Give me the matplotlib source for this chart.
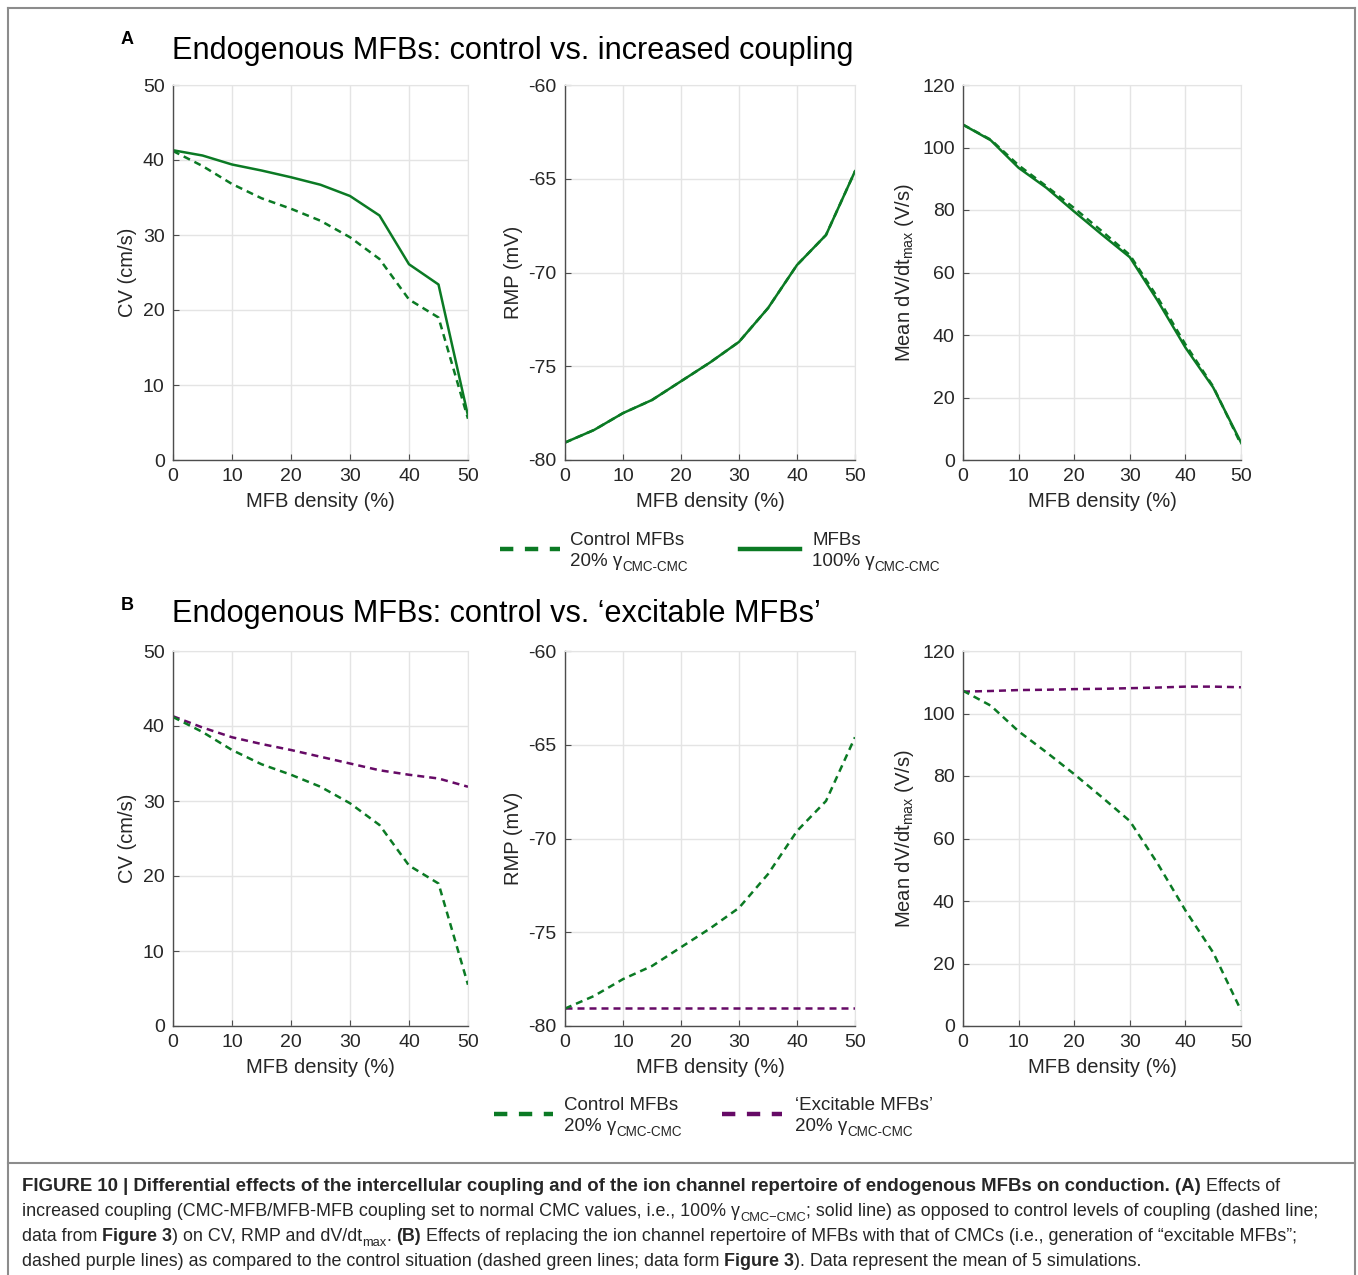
import matplotlib
matplotlib.use('Agg')
import matplotlib.pyplot as plt
from matplotlib.lines import Line2D

plt.rcParams['font.family'] = ['Liberation Sans', 'DejaVu Sans']
plt.rcParams['mathtext.fontset'] = 'custom'
plt.rcParams['mathtext.rm'] = 'Liberation Sans'
plt.rcParams['mathtext.it'] = 'Liberation Sans:italic'
plt.rcParams['axes.unicode_minus'] = False

# dados
mfb = [0, 5, 10, 15, 20, 25, 30, 35, 40, 45, 50]
cv_ctrl = [41.2, 39.2, 36.8, 34.9, 33.5, 31.9, 29.7, 26.8, 21.4, 19.0, 5.5]
cv_coup = [41.3, 40.6, 39.4, 38.6, 37.7, 36.7, 35.2, 32.6, 26.1, 23.4, 5.9]
cv_exc = [41.3, 39.8, 38.5, 37.6, 36.8, 35.9, 35.0, 34.1, 33.5, 33.0, 31.9]
rmp_ctrl = [-79.07, -78.4, -77.5, -76.8, -75.8, -74.8, -73.7, -71.9, -69.6, -68.0, -64.6]
rmp_coup = [-79.07, -78.4, -77.5, -76.8, -75.8, -74.8, -73.7, -71.9, -69.6, -68.0, -64.6]
rmp_exc = [-79.05, -79.05, -79.05, -79.05, -79.05, -79.05, -79.05, -79.05, -79.05, -79.05, -79.05]
dv_ctrl = [107.3, 102.5, 94.3, 87.6, 80.6, 73.2, 65.6, 52.0, 37.0, 23.5, 5.0]
dv_coup = [107.3, 102.3, 93.5, 87.1, 79.5, 72.1, 64.9, 51.0, 36.0, 23.2, 5.6]
dv_exc = [107.0, 107.2, 107.5, 107.6, 107.8, 107.9, 108.1, 108.3, 108.6, 108.6, 108.4]

GREEN = '#0b7a24'
PURPLE = '#660a66'
TXT = '#262626'
DASH = (2.8, 2.0)
LW = 1.8

W, H = 1358, 1275
fig = plt.figure(figsize=(W / 100, H / 100), dpi=100)
fig.patch.set_facecolor('white')

def fx(px):
  return px / W

def fy(py):
  return 1 - py / H

cols = [(173, 468), (565, 855), (963, 1241)]
rows = [(85, 460), (651, 1026)]
ylims = [(0, 50), (-80, -60), (0, 120)]
yticks = [range(0, 51, 10), range(-80, -59, 5), range(0, 121, 20)]
ylabels = ['CV (cm/s)', 'RMP (mV)', 'Mean dV/dt$_{\\mathrm{max}}$ (V/s)']

def make_ax(row, col):
  x0, x1 = cols[col]
  y0, y1 = rows[row]
  ax = fig.add_axes([fx(x0), fy(y1), fx(x1 - x0), (y1 - y0) / H])
  ax.set_xlim(0, 50)
  ax.set_ylim(*ylims[col])
  ax.set_xticks(range(0, 51, 10))
  ax.set_yticks(list(yticks[col]))
  ax.grid(True, color='#e4e4e4', linewidth=1.0)
  ax.set_axisbelow(True)
  for s in ['top', 'right']:
    ax.spines[s].set_color('#e4e4e4')
  for s in ['left', 'bottom']:
    ax.spines[s].set_color('#4d4d4d')
    ax.spines[s].set_linewidth(1.0)
  ax.tick_params(direction='in', length=4, width=0.8, color='#4d4d4d',
                 labelsize=14, labelcolor=TXT, pad=6)
  ax.set_xlabel('MFB density (%)', fontsize=14.5, color=TXT, labelpad=5)
  ax.set_ylabel(ylabels[col], fontsize=14.5, color=TXT, labelpad=4)
  return ax

# painel A
top = [cv_ctrl, rmp_ctrl, dv_ctrl]
top_s = [cv_coup, rmp_coup, dv_coup]
for c in range(3):
  ax = make_ax(0, c)
  ax.plot(mfb, top[c], color=GREEN, lw=LW, dashes=DASH)
  ax.plot(mfb, top_s[c], color=GREEN, lw=LW)

# painel B
bot_e = [cv_exc, rmp_exc, dv_exc]
for c in range(3):
  ax = make_ax(1, c)
  ax.plot(mfb, bot_e[c], color=PURPLE, lw=LW, dashes=DASH)
  ax.plot(mfb, top[c], color=GREEN, lw=LW, dashes=DASH)

# titulos
fig.text(fx(121), fy(40), 'A', fontsize=13, fontweight='bold', va='center')
fig.text(fx(172), fy(51), 'Endogenous MFBs: control vs. increased coupling',
         fontsize=22.1, va='center', color='black')
fig.text(fx(121), fy(606), 'B', fontsize=13, fontweight='bold', va='center')
fig.text(fx(172), fy(614), 'Endogenous MFBs: control vs. \u2018excitable MFBs\u2019',
         fontsize=22.1, va='center', color='black')

rend = fig.canvas.get_renderer()

def runs(x, y, parts, size, color=TXT, bsize=None):
  # escreve pedacos de texto em sequencia (normal, negrito, subscrito)
  if bsize is None:
    bsize = size
  for txt, kind in parts:
    if kind == 'sub':
      t = fig.text(x, y - 5 / H, txt, fontsize=size * 0.72, color=color, va='baseline')
    elif kind == 'bold':
      t = fig.text(x, y, txt, fontsize=bsize, fontweight='bold', color=color, va='baseline')
    else:
      t = fig.text(x, y, txt, fontsize=size, color=color, va='baseline')
    x += t.get_window_extent(renderer=rend).width / W
  return x

legend_pct = {'Control MFBs570': '20% \u03b3', 'MFBs812': '100% \u03b3',
              'Control MFBs564': '20% \u03b3', '\u2018Excitable MFBs\u2019795': '20% \u03b3'}

def legend_item(lx0, lx1, ly, color, dashed, label1, tx, base):
  ln = Line2D([fx(lx0), fx(lx1)], [fy(ly), fy(ly)], transform=fig.transFigure,
              color=color, lw=3.2)
  if dashed:
    ln.set_dashes((3.0, 2.6))
  fig.add_artist(ln)
  fig.text(fx(tx), fy(base - 21), label1, fontsize=13.5, color=TXT, va='baseline')
  runs(fx(tx), fy(base), [(legend_pct[label1 + str(tx)], 'n'), ('CMC-CMC', 'sub')], 13.5)

legend_item(500, 560, 549, GREEN, True, 'Control MFBs', 570, 566)
legend_item(740, 800, 549, GREEN, False, 'MFBs', 812, 566)
legend_item(494, 553, 1114, GREEN, True, 'Control MFBs', 564, 1131)
legend_item(722, 782, 1114, PURPLE, True, '\u2018Excitable MFBs\u2019', 795, 1131)

# legenda da figura
cs = 12.9
bs = 13.4
runs(fx(22), fy(1191), [
  ('FIGURE 10 | Differential effects of the intercellular coupling and of the ion channel repertoire of endogenous MFBs on conduction. (A) ', 'bold'),
  ('Effects of', 'n')], cs, bsize=bs)
runs(fx(22), fy(1216), [
  ('increased coupling (CMC-MFB/MFB-MFB coupling set to normal CMC values, i.e., 100% \u03b3', 'n'),
  ('CMC\u2212CMC', 'sub'),
  ('; solid line) as opposed to control levels of coupling (dashed line;', 'n')], cs)
runs(fx(22), fy(1241), [
  ('data from ', 'n'), ('Figure 3', 'bold'), (') on CV, RMP and dV/dt', 'n'), ('max', 'sub'),
  ('. ', 'n'), ('(B)', 'bold'),
  (' Effects of replacing the ion channel repertoire of MFBs with that of CMCs (i.e., generation of \u201cexcitable MFBs\u201d;', 'n')], cs)
runs(fx(22), fy(1266), [
  ('dashed purple lines) as compared to the control situation (dashed green lines; data form ', 'n'),
  ('Figure 3', 'bold'), ('). Data represent the mean of 5 simulations.', 'n')], cs)

# moldura
fc = '#8c8c8c'
for xs, ys in [([8, 1355], [8, 8]), ([8, 8], [8, 1275]), ([1355, 1355], [8, 1275]),
               ([8, 1355], [1163, 1163])]:
  fig.add_artist(Line2D([fx(v) for v in xs], [fy(v) for v in ys],
                        transform=fig.transFigure, color=fc, lw=1.5))

fig.savefig('out.png', dpi=100)
